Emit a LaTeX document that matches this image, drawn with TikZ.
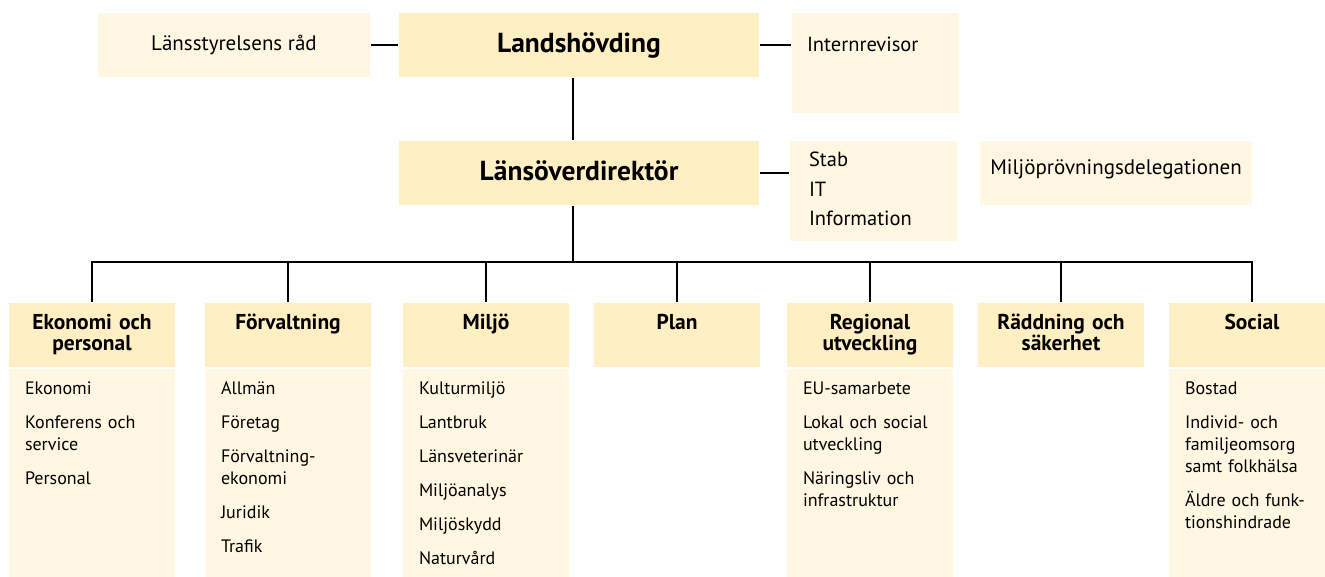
\documentclass[tikz,border=0pt]{standalone}
\usepackage{fontspec}
\setmainfont{PT Sans}
\usetikzlibrary{positioning,calc}
\definecolor{hdyellow}{RGB}{255,239,194}
\definecolor{bdcream}{RGB}{255,247,225}

\begin{document}
\begin{tikzpicture}[x=1pt,y=-1pt,
   topbox/.style={fill=#1,inner sep=0pt,minimum height=64pt,font=\fontsize{21}{25}\selectfont},
   topbox/.default=bdcream,
   chief/.style={topbox=hdyellow,minimum width=360pt,text height=40pt,text depth=24pt,
     font=\fontsize{27.5}{32}\selectfont\bfseries},
   side/.style={fill=bdcream,inner ysep=0pt,align=left,font=\fontsize{20.5}{29.5}\selectfont},
   dept/.style={fill=hdyellow,inner sep=0pt,text width=166pt,align=center,
     text height=27pt,text depth=37pt,font=\fontsize{21.5}{21}\selectfont\bfseries},
   unit/.style={fill=bdcream,inner xsep=16pt,inner ysep=0pt,text width=134pt,align=left,
     text height=25.5pt,text depth=185.5pt,font=\fontsize{18}{22}\selectfont},
   line width=2pt]
\useasboundingbox (0,0) rectangle (1325,577);

% top row
\node[chief] (lh) at (579,45) {Landshövding};
\node[topbox,minimum width=272pt,text height=38pt,text depth=26pt] (rad) at (234,45) {Länsstyrelsens råd};
\node[side,right=31pt of lh.north east,anchor=north west,inner xsep=15pt,text width=137pt,
  text height=39pt,text depth=61pt] (rev) {Internrevisor};

% second row
\node[chief,below=62pt of lh] (lod) {Länsöverdirektör};
\node[side,right=29pt of lod.north east,anchor=north west,inner xsep=19pt,text width=129pt,
  text height=26pt,text depth=74pt] (stab) {Stab\\IT\\Information};
\node[topbox,minimum width=272pt,right=21pt of stab.north east,anchor=north west,
  text height=34pt,text depth=30pt] (mpd) {Miljöprövningsdelegationen};

% departments
\foreach \x/\n/\t in {92/1/{Ekonomi och\\[-0.5pt]personal},288/2/{Förvaltning},486/3/{Miljö},
   677/4/{Plan},870/5/{Regional\\[-0.5pt]utveckling},1061/6/{Räddning och\\[-0.5pt]säkerhet},1252/7/{Social}}
 \node[dept,anchor=north] (hd\n) at (\x,302) {\t};

\node[unit,anchor=north] (bd1) at (hd1.south) {Ekonomi\\[12pt]Konferens och\\service\\[12pt]Personal};
\node[unit,anchor=north] (bd2) at (hd2.south) {Allmän\\[12pt]Företag\\[12pt]Förvaltning-\\ekonomi\\[12pt]Juridik\\[12pt]Trafik};
\node[unit,anchor=north] (bd3) at (hd3.south) {Kulturmiljö\\[12pt]Lantbruk\\[12pt]Länsveterinär\\[12pt]Miljöanalys\\[12pt]Miljöskydd\\[12pt]Naturvård};
\node[unit,anchor=north] (bd5) at (hd5.south) {EU-samarbete\\[12pt]Lokal och social\\utveckling\\[12pt]Näringsliv och\\infrastruktur};
\node[unit,anchor=north] (bd7) at (hd7.south) {Bostad\\[12pt]Individ- och\\familjeomsorg\\samt folkhälsa\\[12pt]Äldre och funk-\\tionshindrade};

% connectors
\coordinate (bus) at (573,262);
\draw (rad) -- (lh);
\draw (lh.east) -- (lh.east -| rev.west);
\draw (lod.east) -- (lod.east -| stab.west);
\draw (lh.south -| bus) -- (lod.north -| bus);
\draw (lod.south -| bus) -- (bus);
\draw (hd1.north) |- (bus) -| (hd7.north);
\foreach \n in {2,...,6}
 \draw (hd\n.north |- bus) -- (hd\n.north);
\end{tikzpicture}
\end{document}
